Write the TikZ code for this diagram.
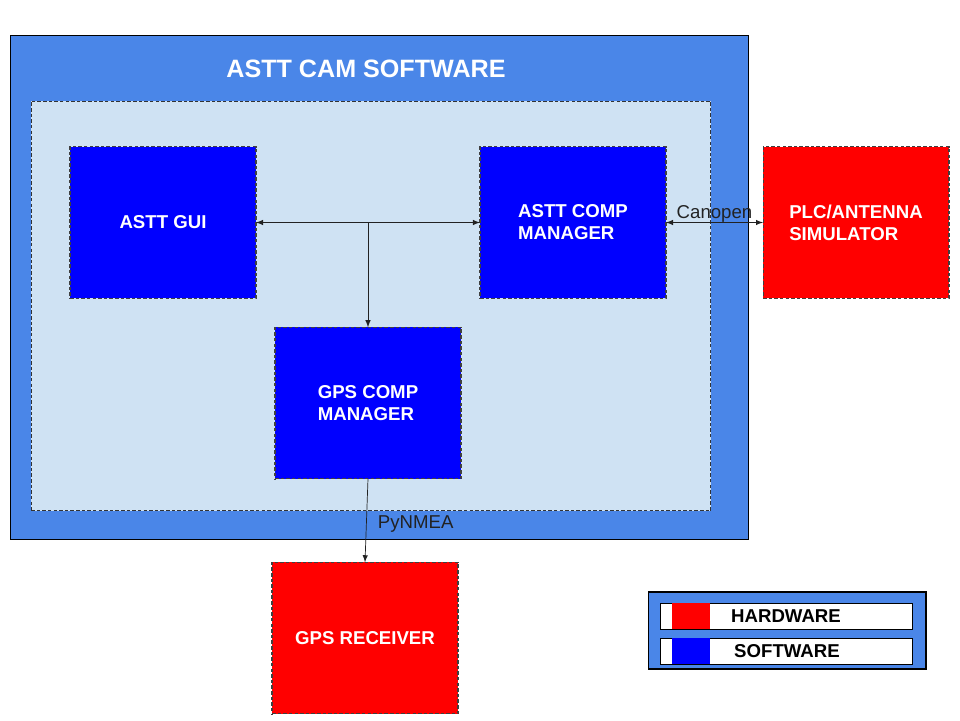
\documentclass[tikz,border=0pt]{standalone}
\usepackage{fontspec}
\setmainfont{Liberation Sans}
\usetikzlibrary{arrows}
\definecolor{camblue}{HTML}{4A86E8}
\definecolor{paleblue}{HTML}{CFE2F3}
\definecolor{inkgray}{HTML}{222222}
\newcommand\boxfont{\fontsize{10.6}{12.6}\selectfont}
\newcommand\titlefont{\fontsize{14.3}{17}\selectfont}
\begin{document}
\begin{tikzpicture}[x=0.02cm, y=-0.02cm, >=latex, line width=0.6pt,
    block/.style={inner sep=0pt, outer sep=0pt},
    main box/.style={block, minimum width=3.72cm, minimum height=3.03cm, draw=black!75, dash pattern=on 2pt off 1.2pt, text=white, font=\boxfont\bfseries, align=left},
    sw node/.style={main box, fill=blue},
    hw node/.style={main box, fill=red},
    key box/.style={block, minimum width=0.76cm, minimum height=0.52cm},
    link/.style={thin, solid, draw=inkgray}]
\useasboundingbox (0,0) rectangle (960,720);
% software container
\node[block, fill=camblue, draw=black, minimum width=14.78cm, minimum height=10.1cm] (cam) at (379.5,287.5) {};
\node[block, fill=paleblue, draw=black!80, dash pattern=on 2pt off 1.2pt, minimum width=13.6cm, minimum height=8.2cm] (inner) at (371,306) {};
\node[text=white, font=\titlefont\bfseries] (title) at (366,69) {ASTT CAM SOFTWARE};
% components
\node[sw node] (gui) at (163,222.5) {ASTT GUI};
\node[sw node] (comp) at (573,222.5) {ASTT COMP\\MANAGER};
\node[sw node] (gpscomp) at (368,403) {GPS COMP\\MANAGER};
\node[hw node] (plc) at (856,222.5) {PLC/ANTENNA\\SIMULATOR};
\node[hw node] (recv) at (365,638) {GPS RECEIVER};
% connectors
\coordinate (j) at (gpscomp.north |- gui.east);
\draw[link, <->] (gui) -- (comp);
\draw[link, ->] (j) -- (gpscomp.north);
\draw[link, <->] (comp) -- node[above=-1pt, inner sep=1pt, font=\boxfont, text=inkgray] {Canopen} (plc);
\draw[link, ->] (gpscomp.south) -- node[right=3pt, yshift=-2pt, font=\boxfont, text=inkgray] {PyNMEA} (recv.north);
% legend
\node[block, fill=camblue, draw=black, minimum width=5.56cm, minimum height=1.54cm] (legend) at (787,630.5) {};
\node[block, fill=white, draw=black, line width=0.4pt, minimum width=5.04cm, minimum height=0.52cm] (hwrow) at (786,616) {};
\node[block, fill=white, draw=black, line width=0.4pt, minimum width=5.04cm, minimum height=0.52cm] (swrow) at (786,651) {};
\node[key box, fill=red] (hwkey) at (691,616) {};
\node[key box, fill=blue] (swkey) at (691,651) {};
\node[font=\boxfont\bfseries] (hwtext) at (786,616) {HARDWARE};
\node[font=\boxfont\bfseries] (swtext) at (787,651) {SOFTWARE};
\end{tikzpicture}
\end{document}
